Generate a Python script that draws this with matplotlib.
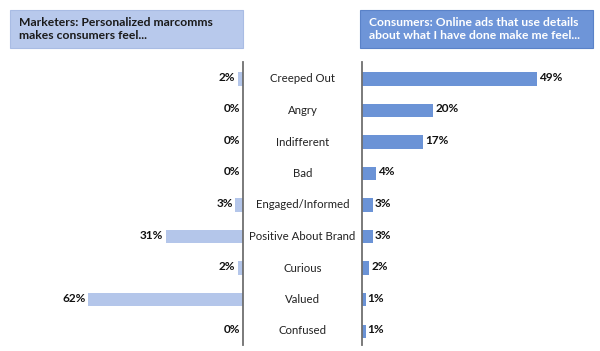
import matplotlib
matplotlib.use("Agg")
import matplotlib.pyplot as plt
from matplotlib.patches import Rectangle

categories = ["Creeped Out", "Angry", "Indifferent", "Bad", "Engaged/Informed",
              "Positive About Brand", "Curious", "Valued", "Confused"]
marketers = [2, 0, 0, 0, 3, 31, 2, 62, 0]
consumers = [49, 20, 17, 4, 3, 3, 2, 1, 1]

left_title = "Marketers: Personalized marcomms\nmakes consumers feel..."
right_title = "Consumers: Online ads that use details\nabout what I have done make me feel..."

W, H = 600, 351
light = "#b4c6ea"
mid = "#6b93d6"
axis_gray = "#6f6f6f"
font = ["Lato", "DejaVu Sans"]

fig = plt.figure(figsize=(W / 100, H / 100), dpi=100)


def px_axes(x0, x1, y0, y1):
    # pixel box (top-left origin) -> axes
    return fig.add_axes([x0 / W, 1 - y1 / H, (x1 - x0) / W, (y1 - y0) / H])


y = list(range(len(categories)))
ylim = (8.44, -0.54)

# left panel (marketers), bars grow to the left
axl = px_axes(10, 243, 62, 345)
axl.barh(y, marketers, height=0.42, color=light)
axl.set_xlim(233 / 2.5, 0)
axl.set_ylim(*ylim)
for i, v in enumerate(marketers):
    axl.text(v + 1.0, i - 0.05, f"{v}%", ha="right", va="center", fontsize=8.5,
             fontweight="bold", family=font, color="#111111")

# right panel (consumers)
axr = px_axes(362, 593, 62, 345)
axr.barh(y, consumers, height=0.42, color=mid)
axr.set_xlim(0, 231 / 3.57)
axr.set_ylim(*ylim)
for i, v in enumerate(consumers):
    axr.text(v + 0.6, i - 0.05, f"{v}%", ha="left", va="center", fontsize=8.5,
             fontweight="bold", family=font, color="#111111")

for ax in (axl, axr):
    ax.set_xticks([])
    ax.set_yticks([])
    for s in ax.spines.values():
        s.set_visible(False)
axl.spines["right"].set_visible(True)
axl.spines["right"].set_color(axis_gray)
axl.spines["right"].set_linewidth(1.3)
axr.spines["left"].set_visible(True)
axr.spines["left"].set_color(axis_gray)
axr.spines["left"].set_linewidth(1.3)

# category labels in the middle
for i, c in enumerate(categories):
    ypx = 79 + i * 31.5
    fig.text(302.5 / W, 1 - ypx / H, c, ha="center", va="center", fontsize=8.2,
             family=font, color="#222222")

# header boxes
fig.patches.append(Rectangle((10 / W, 1 - 48 / H), 233 / W, 38 / H,
                             transform=fig.transFigure, facecolor="#b8c9ec",
                             edgecolor="#a9bce4", lw=0.8))
fig.patches.append(Rectangle((360 / W, 1 - 48 / H), 233 / W, 38 / H,
                             transform=fig.transFigure, facecolor="#6e95d8",
                             edgecolor="#5a82c8", lw=0.8))
fig.text(19 / W, 1 - 29 / H, left_title, ha="left", va="center", fontsize=8.7,
         fontweight="bold", family=font, color="#1a1a1a", linespacing=1.25)
fig.text(369 / W, 1 - 29 / H, right_title, ha="left", va="center", fontsize=8.7,
         fontweight="bold", family=font, color="white", linespacing=1.25)

fig.savefig("out.png", dpi=100, facecolor="white")
